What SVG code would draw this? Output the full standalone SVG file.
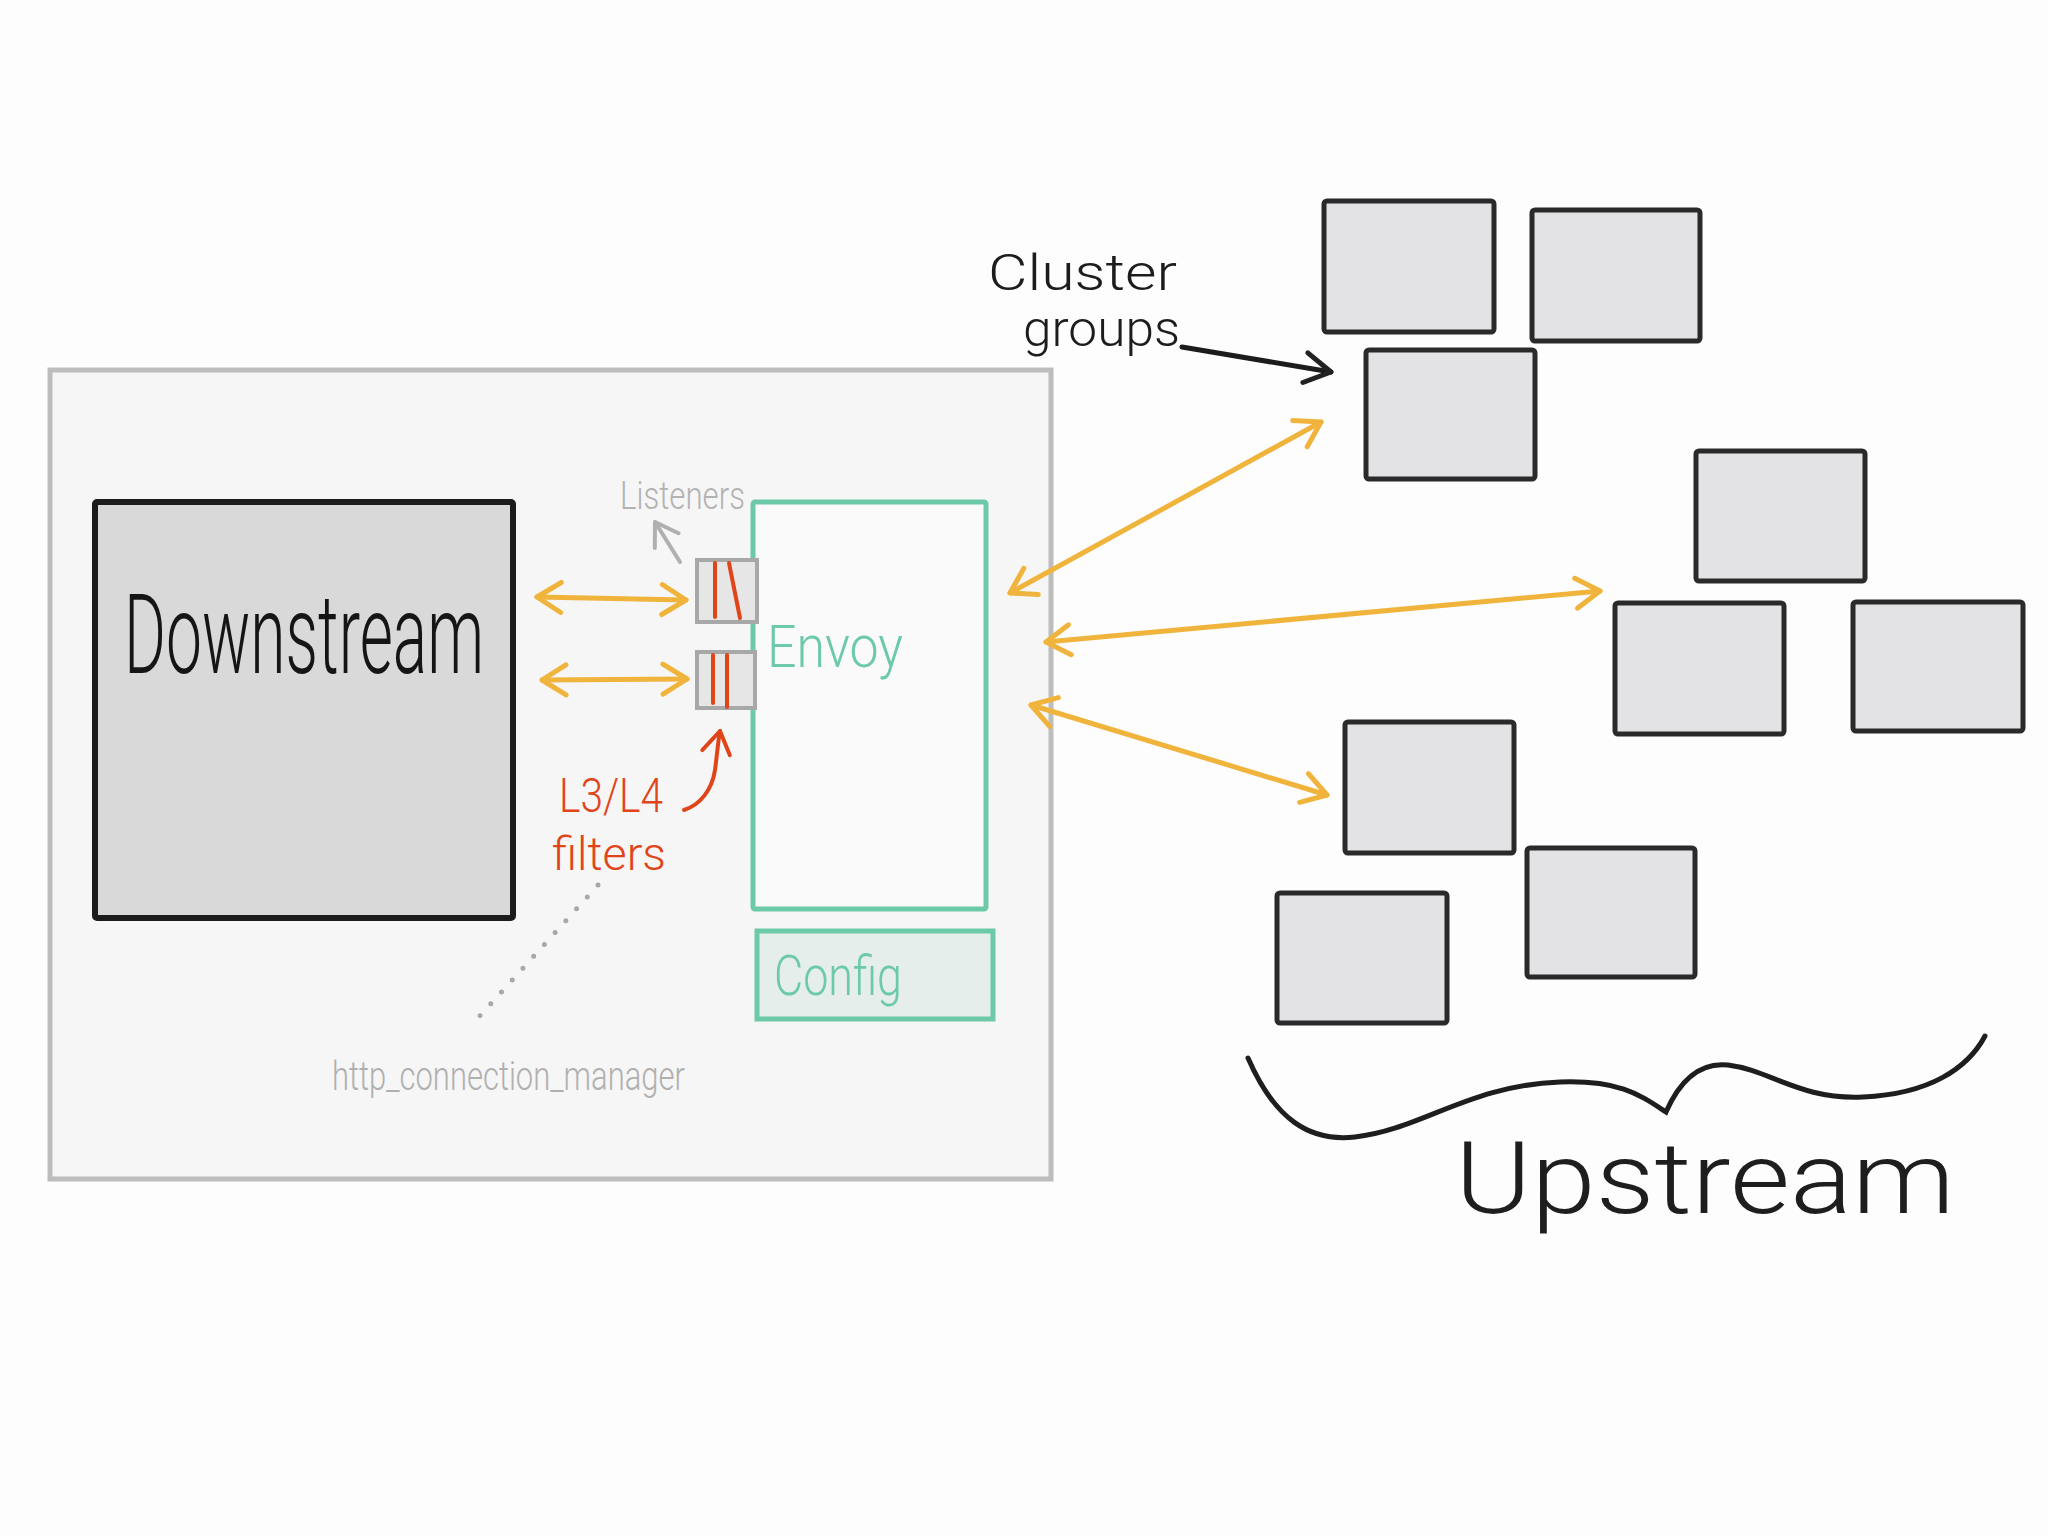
<svg xmlns="http://www.w3.org/2000/svg" width="2048" height="1536" viewBox="0 0 2048 1536">
  <style>
    .ubox { fill: #e3e3e6; stroke: #2a2a2a; stroke-width: 5; }
    .hand { font-family: "Roboto", "Liberation Sans", "DejaVu Sans", sans-serif; font-weight: 300; }
    .orange { fill: none; stroke: #f0b43c; stroke-width: 5; stroke-linecap: round; }
    .lbox { fill: #e6e6e6; stroke: #a8a8a8; stroke-width: 4; }
    .red { stroke: #e0451a; stroke-width: 4; stroke-linecap: round; }
  </style>
  <defs>
    <marker id="arrO" markerUnits="userSpaceOnUse" viewBox="0 0 32 40" refX="29" refY="20" markerWidth="32" markerHeight="40" orient="auto-start-reverse">
      <path d="M5,5 L29,20 L5,35" fill="none" stroke="#f0b43c" stroke-width="5" stroke-linecap="round" stroke-linejoin="round"/>
    </marker>
    <marker id="arrG" markerUnits="userSpaceOnUse" viewBox="0 0 30 36" refX="27" refY="18" markerWidth="30" markerHeight="36" orient="auto">
      <path d="M5,4 L27,18 L5,32" fill="none" stroke="#b0b0b0" stroke-width="4" stroke-linecap="round" stroke-linejoin="round"/>
    </marker>
    <marker id="arrR" markerUnits="userSpaceOnUse" viewBox="0 0 30 36" refX="27" refY="18" markerWidth="30" markerHeight="36" orient="auto">
      <path d="M5,4 L27,18 L5,32" fill="none" stroke="#e0451a" stroke-width="4" stroke-linecap="round" stroke-linejoin="round"/>
    </marker>
    <marker id="arrK" markerUnits="userSpaceOnUse" viewBox="0 0 34 40" refX="31" refY="20" markerWidth="34" markerHeight="40" orient="auto">
      <path d="M5,5 L31,20 L5,35" fill="none" stroke="#222" stroke-width="5" stroke-linecap="round" stroke-linejoin="round"/>
    </marker>
  </defs>

  <rect x="0" y="0" width="2048" height="1536" fill="#fdfdfd"/>

  <g id="host">
    <rect x="50" y="370" width="1001" height="809" fill="#f6f6f6" stroke="#bdbdbd" stroke-width="5"/>
  </g>

  <g id="downstream">
    <rect x="95" y="502" width="418" height="416" fill="#d9d9d9" stroke="#1c1c1c" stroke-width="6" rx="2"/>
    <text class="hand" x="124" y="673" font-size="112" fill="#151515" font-weight="400" textLength="360" lengthAdjust="spacingAndGlyphs">Downstream</text>
  </g>

  <g id="envoy">
    <rect x="753" y="502" width="233" height="407" fill="#fafafa" stroke="#6ccaa8" stroke-width="5" rx="2"/>
    <text class="hand" x="767" y="667" font-size="60" fill="#6ccaa8" textLength="136" lengthAdjust="spacingAndGlyphs">Envoy</text>
  </g>

  <g id="config">
    <rect x="757" y="931" width="236" height="88" fill="#e5eeea" stroke="#6ccaa8" stroke-width="5"/>
    <text class="hand" x="774" y="995" font-size="56" fill="#6ccaa8" textLength="128" lengthAdjust="spacingAndGlyphs">Config</text>
  </g>

  <g id="listener-1">
    <rect class="lbox" x="697" y="560" width="60" height="62"/>
    <line class="red" x1="715" y1="563" x2="715" y2="617"/>
    <line class="red" x1="729" y1="563" x2="740" y2="618"/>
  </g>
  <g id="listener-2">
    <rect class="lbox" x="697" y="652" width="58" height="56"/>
    <line class="red" x1="713" y1="655" x2="713" y2="703"/>
    <line class="red" x1="727" y1="655" x2="727" y2="707"/>
  </g>

  <g id="listeners-label">
    <text class="hand" x="620" y="509" font-size="38" fill="#b3b3b3" textLength="125" lengthAdjust="spacingAndGlyphs">Listeners</text>
  </g>

  <g id="filters-label">
    <text class="hand" x="559" y="812" font-size="48" fill="#e0451a" font-weight="400" textLength="104" lengthAdjust="spacingAndGlyphs">L3/L4</text>
    <text class="hand" x="552" y="870" font-size="46" fill="#e0451a" font-weight="400" textLength="114" lengthAdjust="spacingAndGlyphs">filters</text>
  </g>

  <g id="hcm-label">
    <text class="hand" x="332" y="1090" font-size="40" fill="#b0b0b0" textLength="353" lengthAdjust="spacingAndGlyphs">http_connection_manager</text>
  </g>

  <g id="cluster-label">
    <text class="hand" x="988" y="290" font-size="50" fill="#1c1c1c" font-weight="400" textLength="189" lengthAdjust="spacingAndGlyphs">Cluster</text>
    <text class="hand" x="1023" y="346" font-size="50" fill="#1c1c1c" font-weight="400" textLength="157" lengthAdjust="spacingAndGlyphs">groups</text>
  </g>

  <g id="upstream-1"><rect class="ubox" x="1324" y="201" width="170" height="131" rx="3"/></g>
  <g id="upstream-2"><rect class="ubox" x="1532" y="210" width="168" height="131" rx="3"/></g>
  <g id="upstream-3"><rect class="ubox" x="1366" y="350" width="169" height="129" rx="3"/></g>
  <g id="upstream-4"><rect class="ubox" x="1696" y="451" width="169" height="130" rx="3"/></g>
  <g id="upstream-5"><rect class="ubox" x="1615" y="603" width="169" height="131" rx="3"/></g>
  <g id="upstream-6"><rect class="ubox" x="1853" y="602" width="170" height="129" rx="3"/></g>
  <g id="upstream-7"><rect class="ubox" x="1345" y="722" width="169" height="131" rx="3"/></g>
  <g id="upstream-8"><rect class="ubox" x="1527" y="848" width="168" height="129" rx="3"/></g>
  <g id="upstream-9"><rect class="ubox" x="1277" y="893" width="170" height="130" rx="3"/></g>

  <g id="upstream-label">
    <path d="M1248,1058 C1275,1120 1310,1142 1355,1137 C1420,1130 1470,1085 1560,1082 C1620,1080 1640,1095 1666,1112 C1680,1080 1700,1062 1728,1065 C1770,1070 1800,1100 1863,1097 C1930,1094 1968,1068 1985,1036" fill="none" stroke="#1e1e1e" stroke-width="5" stroke-linecap="round"/>
    <text class="hand" x="1455" y="1213" font-size="100" fill="#1e1e1e" textLength="500" lengthAdjust="spacingAndGlyphs">Upstream</text>
  </g>

  <g id="connectors">
    <line class="orange" x1="537" y1="597" x2="686" y2="600" marker-start="url(#arrO)" marker-end="url(#arrO)"/>
    <line class="orange" x1="542" y1="680" x2="687" y2="679" marker-start="url(#arrO)" marker-end="url(#arrO)"/>
    <line class="orange" x1="1010" y1="593" x2="1321" y2="422" marker-start="url(#arrO)" marker-end="url(#arrO)"/>
    <line class="orange" x1="1046" y1="642" x2="1600" y2="591" marker-start="url(#arrO)" marker-end="url(#arrO)"/>
    <line class="orange" x1="1031" y1="705" x2="1327" y2="795" marker-start="url(#arrO)" marker-end="url(#arrO)"/>
    <line x1="680" y1="562" x2="655" y2="522" stroke="#b0b0b0" stroke-width="4" stroke-linecap="round" marker-end="url(#arrG)"/>
    <path d="M684,810 C700,805 712,790 715,770 C717,755 718,742 720,731" fill="none" stroke="#e0451a" stroke-width="4" stroke-linecap="round" marker-end="url(#arrR)"/>
    <line x1="598" y1="885" x2="477" y2="1019" stroke="#a8a8a8" stroke-width="5" stroke-linecap="round" stroke-dasharray="0 16"/>
    <line x1="1182" y1="347" x2="1331" y2="372" stroke="#1c1c1c" stroke-width="5" stroke-linecap="round" marker-end="url(#arrK)"/>
  </g>
</svg>
